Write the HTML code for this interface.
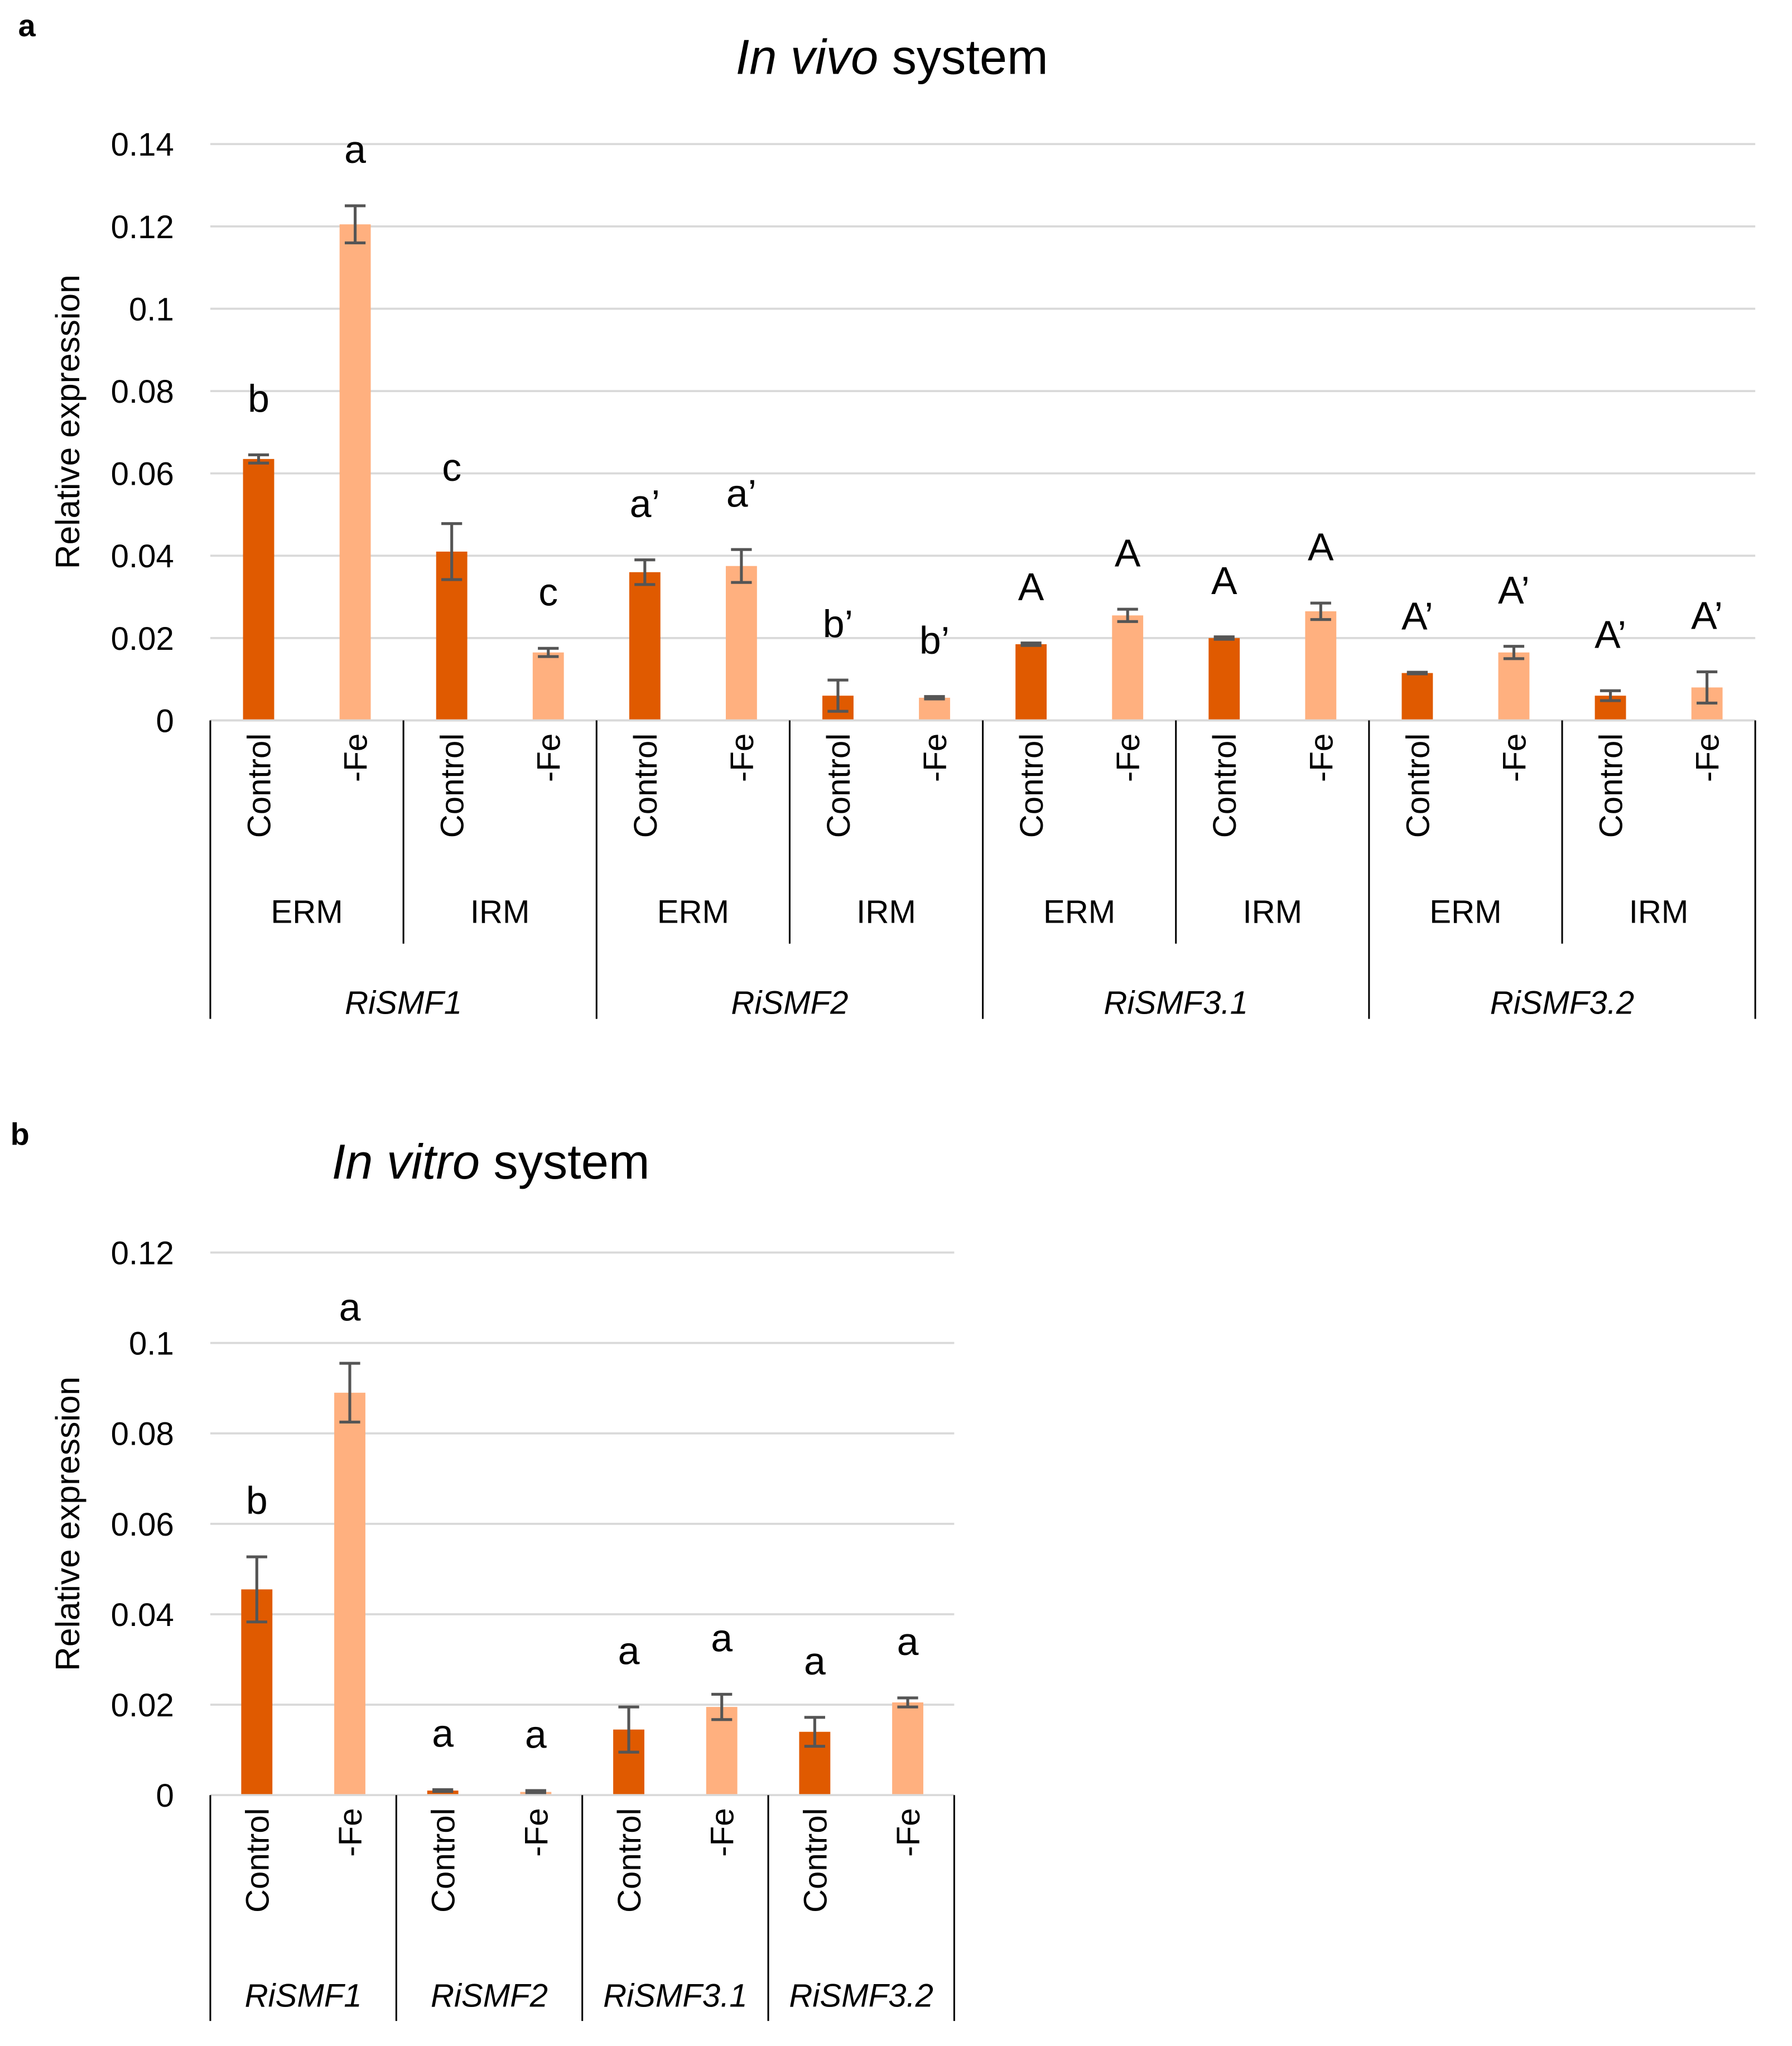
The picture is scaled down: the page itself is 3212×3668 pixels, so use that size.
<!DOCTYPE html>
<html><head><meta charset="utf-8"><style>
html,body{margin:0;padding:0;background:#fff;}
svg{display:block;font-family:"Liberation Sans",Calibri,sans-serif;}
</style></head><body>
<svg id="fig" width="3212" height="3668" viewBox="0 0 1380.3 1576.3" preserveAspectRatio="none" xmlns="http://www.w3.org/2000/svg">
<rect width="1380.3" height="1576.3" fill="#fff"/>
<g id="ga"></g>
<g id="gb"></g>
</svg>
<script>
// ---- Chart a data ----
const aGenes = ["RiSMF1","RiSMF2","RiSMF3.1","RiSMF3.2"];
const aTissues = ["ERM","IRM"];
const aTreat = ["Control","-Fe"];
const aValues = [0.0635,0.1205,0.041,0.0165,0.036,0.0375,0.006,0.0055,0.0185,0.0255,0.02,0.0265,0.0115,0.0165,0.006,0.008];
const aErrors = [0.001,0.0045,0.0068,0.001,0.003,0.004,0.0038,0.0003,0.0003,0.0015,0.0003,0.002,0.0002,0.0015,0.0012,0.0038];
const aLetters = ["b","a","c","c","a’","a’","b’","b’","A","A","A","A","A’","A’","A’","A’"];
const aTicks = [0,0.02,0.04,0.06,0.08,0.1,0.12,0.14];
const aTickLabels = ["0","0.02","0.04","0.06","0.08","0.1","0.12","0.14"];
// ---- Chart b data ----
const bGenes = ["RiSMF1","RiSMF2","RiSMF3.1","RiSMF3.2"];
const bTreat = ["Control","-Fe"];
const bValues = [0.0455,0.089,0.001,0.0007,0.0145,0.0195,0.014,0.0205];
const bErrors = [0.0072,0.0065,0.0002,0.0003,0.005,0.0028,0.0032,0.001];
const bLetters = ["b","a","a","a","a","a","a","a"];
const bTicks = [0,0.02,0.04,0.06,0.08,0.1,0.12];
const bTickLabels = ["0","0.02","0.04","0.06","0.08","0.1","0.12"];

const NS="http://www.w3.org/2000/svg";
function mk(parent,tag,attrs,text){const e=document.createElementNS(NS,tag);for(const k in attrs)e.setAttribute(k,attrs[k]);if(text!==undefined)e.textContent=text;parent.appendChild(e);return e;}
const DARK="#E05A00",LIGHT="#FFB07F";

function drawChart(g,cfg){
  const {x0,x1,y0,yTop,vmax,values,errors,letters,ticks,tickLabels,treat,nCat}=cfg;
  const ys=v=>y0-(v/vmax)*(y0-yTop);
  const cw=(x1-x0)/nCat;
  const xc=i=>x0+cw*(i+0.5);
  ticks.forEach((t,i)=>{
    const gl=mk(g,"line",{x1:x0,x2:x1,y1:ys(t),y2:ys(t),stroke:"#d9d9d9","stroke-width":1.6});
    
    
    const tl=mk(g,"text",{x:134,y:ys(t)+9,"text-anchor":"end","font-size":25,fill:"#000"},tickLabels[i]);
    
    
  });
  values.forEach((v,i)=>{
    const bw=24;
    const b=mk(g,"rect",{x:xc(i)-bw/2,y:ys(v),width:bw,height:y0-ys(v),fill:i%2?LIGHT:DARK});
    
    
    const e=errors[i],top=ys(v+e),bot=ys(Math.max(0,v-e));
    const eg=mk(g,"g",{stroke:"#555","stroke-width":2.2});
    
    
    mk(eg,"line",{x1:xc(i),x2:xc(i),y1:top,y2:bot});
    mk(eg,"line",{x1:xc(i)-8,x2:xc(i)+8,y1:top,y2:top});
    mk(eg,"line",{x1:xc(i)-8,x2:xc(i)+8,y1:bot,y2:bot});
    const lt=mk(g,"text",{x:xc(i),y:top-33,"text-anchor":"middle","font-size":30,fill:"#000"},letters[i]);
    
    
    const cl=mk(g,"text",{x:0,y:0,"text-anchor":"end","font-size":25,fill:"#000",transform:`translate(${xc(i)+9},${y0+10}) rotate(-90)`},treat[i%2]);
    
    
  });
  mk(g,"line",{x1:x0,x2:x1,y1:y0,y2:y0,stroke:"#d9d9d9","stroke-width":1.6});
  return {xc,cw};
}

// Chart a
(function(){
  const g=document.getElementById("ga");
  mk(g,"text",{x:14,y:28,"font-size":24,"font-weight":"bold"},"a");
  const t=mk(g,"text",{x:687,y:57,"text-anchor":"middle","font-size":38});
  
  
  mk(t,"tspan",{"font-style":"italic"},"In vivo");mk(t,"tspan",{}," system");
  const yt=mk(g,"text",{x:0,y:0,"text-anchor":"middle","font-size":26,transform:"translate(61,325) rotate(-90)"},"Relative expression");
  
  
  const x0=162,x1=1352,y0=555;
  const {xc,cw}=drawChart(g,{x0,x1,y0,yTop:111,vmax:0.14,values:aValues,errors:aErrors,letters:aLetters,ticks:aTicks,tickLabels:aTickLabels,treat:aTreat,nCat:16});
  for(let k=0;k<=8;k++){
    const x=x0+cw*2*k;
    const l=mk(g,"line",{x1:x,x2:x,y1:y0,y2:(k%2===0)?785:727,stroke:"#000","stroke-width":1.3});
    
    
  }
  for(let k=0;k<8;k++){
    const tl=mk(g,"text",{x:x0+cw*(2*k+1),y:711,"text-anchor":"middle","font-size":25},aTissues[k%2]);
    
    
  }
  aGenes.forEach((gn,k)=>{
    const tl=mk(g,"text",{x:x0+cw*(4*k+2),y:781,"text-anchor":"middle","font-size":25,"font-style":"italic"},gn);
    
    
  });
})();

// Chart b
(function(){
  const g=document.getElementById("gb");
  mk(g,"text",{x:8,y:882,"font-size":24,"font-weight":"bold"},"b");
  const t=mk(g,"text",{x:378,y:908,"text-anchor":"middle","font-size":38});
  
  
  mk(t,"tspan",{"font-style":"italic"},"In vitro");mk(t,"tspan",{}," system");
  const yt=mk(g,"text",{x:0,y:0,"text-anchor":"middle","font-size":26,transform:"translate(61,1174) rotate(-90)"},"Relative expression");
  
  
  const x0=162,x1=735,y0=1383;
  const {xc,cw}=drawChart(g,{x0,x1,y0,yTop:965,vmax:0.12,values:bValues,errors:bErrors,letters:bLetters,ticks:bTicks,tickLabels:bTickLabels,treat:bTreat,nCat:8});
  for(let k=0;k<=4;k++){
    const x=x0+cw*2*k;
    const l=mk(g,"line",{x1:x,x2:x,y1:y0,y2:1557,stroke:"#000","stroke-width":1.3});
    
    
  }
  bGenes.forEach((gn,k)=>{
    const tl=mk(g,"text",{x:x0+cw*(2*k+1),y:1546,"text-anchor":"middle","font-size":25,"font-style":"italic"},gn);
    
    
  });
})();
</script>
</body></html>
